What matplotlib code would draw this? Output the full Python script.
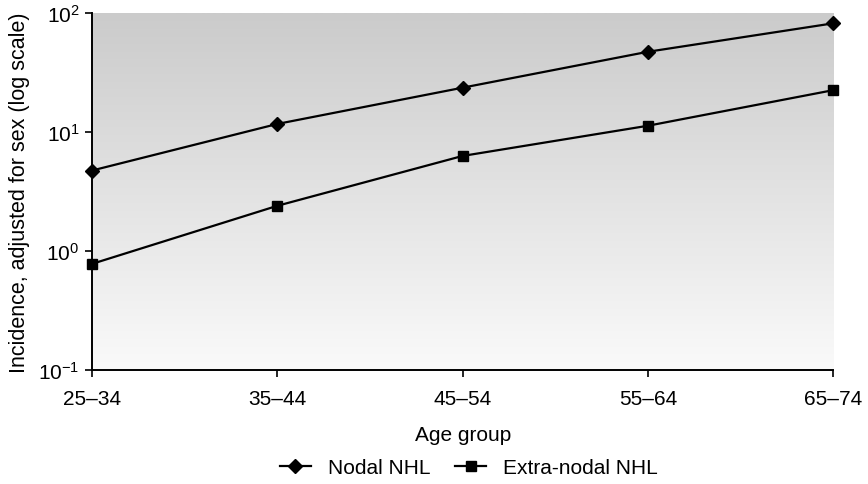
import numpy as np
import matplotlib.pyplot as plt
from matplotlib.colors import LinearSegmentedColormap
from matplotlib.ticker import LogLocator, NullLocator

plt.rcParams['font.family'] = ['Liberation Sans', 'DejaVu Sans']
plt.rcParams['axes.unicode_minus'] = False

age_groups = ['25–34', '35–44', '45–54', '55–64', '65–74']
nodal = [4.75, 11.7, 23.6, 47.3, 82.0]
extra_nodal = [0.78, 2.40, 6.3, 11.3, 22.5]

fig = plt.figure(figsize=(8.68, 4.85), dpi=100)
ax = fig.add_axes([0.106, 0.235, 0.854, 0.736])

# grey gradient background, darker at the top
cmap = LinearSegmentedColormap.from_list('g', ['#fafafa', '#cbcbcb'])
grad = np.linspace(0, 1, 256).reshape(-1, 1)
ax.imshow(grad, cmap=cmap, extent=[0, 1, 0, 1], transform=ax.transAxes,
          aspect='auto', origin='lower', zorder=0)

x = np.arange(len(age_groups))
ax.plot(x, nodal, color='black', lw=1.6, marker='D', ms=7.5, label='Nodal NHL', zorder=3, clip_on=False)
ax.plot(x, extra_nodal, color='black', lw=1.6, marker='s', ms=6.5, label='Extra-nodal NHL', zorder=3, clip_on=False)

ax.set_yscale('log')
ax.set_ylim(0.1, 100)
ax.set_xlim(0, len(age_groups) - 1)
ax.yaxis.set_major_locator(LogLocator(base=10))
ax.yaxis.set_minor_locator(NullLocator())
ax.set_xticks(x)
ax.set_xticklabels(age_groups)

for s in ['top', 'right']:
    ax.spines[s].set_visible(False)
for s in ['left', 'bottom']:
    ax.spines[s].set_linewidth(1.4)
ax.tick_params(direction='out', length=5, width=1.2, labelsize=15)
ax.tick_params(axis='x', pad=9)
ax.tick_params(axis='y', pad=4)

ax.set_xlabel('Age group', fontsize=15, labelpad=12)
ax.set_ylabel('Incidence, adjusted for sex (log scale)', fontsize=15.5, labelpad=6)

fig.legend(loc='lower center', bbox_to_anchor=(0.54, -0.024), ncol=2, frameon=False,
           fontsize=15, handlelength=1.5, columnspacing=1.2, handletextpad=0.8)

fig.savefig('out.png', dpi=100)
